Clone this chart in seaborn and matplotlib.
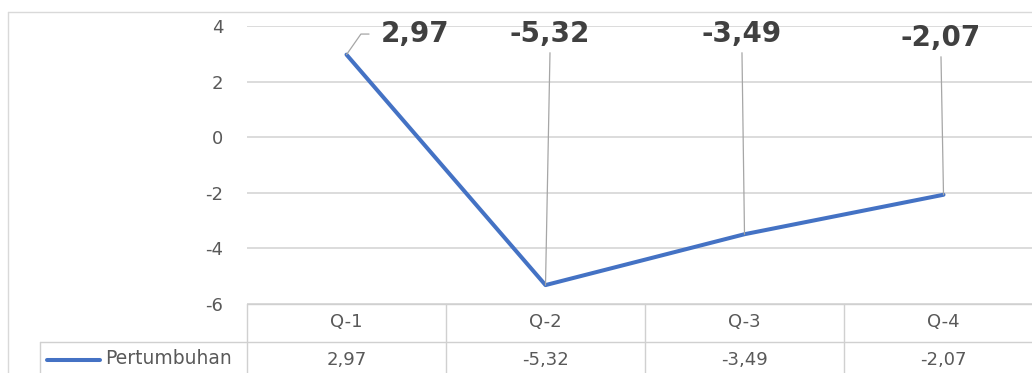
import matplotlib
matplotlib.use("Agg")
import matplotlib.pyplot as plt
from matplotlib.lines import Line2D
from matplotlib.transforms import blended_transform_factory
import pandas as pd
import seaborn as sns

# Quarterly growth data
quarters = ["Q-1", "Q-2", "Q-3", "Q-4"]
growth = [2.97, -5.32, -3.49, -2.07]
series_name = "Pertumbuhan"
y_ticks = [-6, -4, -2, 0, 2, 4]


def fmt(v):
    return f"{v:.2f}".replace(".", ",")


sns.set_theme(style="white")
plt.rcParams["font.family"] = ["DejaVu Sans"]

W, H = 1032, 373
fig = plt.figure(figsize=(W / 100, H / 100), dpi=100)
fig.patch.set_facecolor("white")


def fx(x):
    return x / W


def fy(y):
    return 1 - y / H


BLUE = "#4472C4"
GRID = "#d9d9d9"
TEXT = "#595959"

# plot area (pixel layout)
left, right, top, bottom = 247, 1043, 26, 304
ax = fig.add_axes([fx(left), fy(bottom), (right - left) / W, (bottom - top) / H])
ax.set_facecolor("none")

df = pd.DataFrame({"Kuartal": quarters, series_name: growth})
sns.lineplot(data=df, x="Kuartal", y=series_name, ax=ax, color=BLUE,
             lw=2.9, sort=False, zorder=3, legend=False)

ax.set_xlim(-0.5, len(quarters) - 0.5)
ax.set_ylim(min(y_ticks), max(y_ticks))
ax.set_yticks(y_ticks)
ax.set_yticklabels([str(t) for t in y_ticks])
ax.tick_params(axis="y", length=0, pad=17, labelsize=13, labelcolor=TEXT)
ax.set_xticks([])
ax.set_xlabel("")
ax.set_ylabel("")
for s in ax.spines.values():
    s.set_visible(False)
ax.grid(axis="y", color=GRID, lw=1.3)
ax.grid(axis="x", visible=False)
ax.set_axisbelow(True)

# data labels with leader lines
label_xy = [(0.344, 3.71), (1.023, 3.71), (1.987, 3.71), (2.987, 3.565)]
for i, (v, (lx, ly)) in enumerate(zip(growth, label_xy)):
    if i == 0:
        props = dict(arrowstyle="-", color="#a6a6a6", lw=0.9,
                     connectionstyle="angle,angleA=0,angleB=55,rad=0",
                     relpos=(0, 0.5), shrinkA=6, shrinkB=0)
    else:
        props = dict(arrowstyle="-", color="#a6a6a6", lw=0.9,
                     relpos=(0.5, 0), shrinkA=1, shrinkB=0)
    ax.annotate(fmt(v), xy=(i, v), xytext=(lx, ly), textcoords="data",
                ha="center", va="center", fontsize=20, fontweight="bold",
                color="#404040", arrowprops=props, annotation_clip=False,
                zorder=4)

# data table below the chart
tr = blended_transform_factory(ax.transData, fig.transFigure)
row1_top, row2_top, table_bottom = 304, 342, 390
line_kw = dict(color="#d0d0d0", lw=1.0, clip_on=False)

fig.add_artist(Line2D([-0.5, len(quarters) - 0.5], [fy(row1_top)] * 2,
                      transform=tr, **line_kw))
fig.add_artist(Line2D([fx(40), 1.0], [fy(row2_top)] * 2,
                      transform=fig.transFigure, **line_kw))
for b in [i - 0.5 for i in range(len(quarters))]:
    fig.add_artist(Line2D([b, b], [fy(row1_top), fy(table_bottom)],
                          transform=tr, **line_kw))
fig.add_artist(Line2D([fx(40), fx(40)], [fy(row2_top), fy(table_bottom)],
                      transform=fig.transFigure, **line_kw))

for i, (q, v) in enumerate(zip(quarters, growth)):
    fig.text(i, fy(322), q, transform=tr, ha="center", va="center",
             fontsize=13, color=TEXT)
    fig.text(i, fy(360), fmt(v), transform=tr, ha="center", va="center",
             fontsize=13, color=TEXT)

# legend key in the table row header
fig.add_artist(Line2D([fx(47), fx(100)], [fy(360)] * 2,
                      transform=fig.transFigure, color=BLUE, lw=2.9))
fig.text(fx(105), fy(359), series_name, ha="left", va="center",
         fontsize=13.5, color=TEXT)

# chart frame
frame_kw = dict(color="#d9d9d9", lw=1.0, transform=fig.transFigure)
fig.add_artist(Line2D([fx(8), 1.0], [fy(12)] * 2, **frame_kw))
fig.add_artist(Line2D([fx(8), fx(8)], [fy(12), 0.0], **frame_kw))

fig.savefig("out.png", dpi=100, facecolor="white")
